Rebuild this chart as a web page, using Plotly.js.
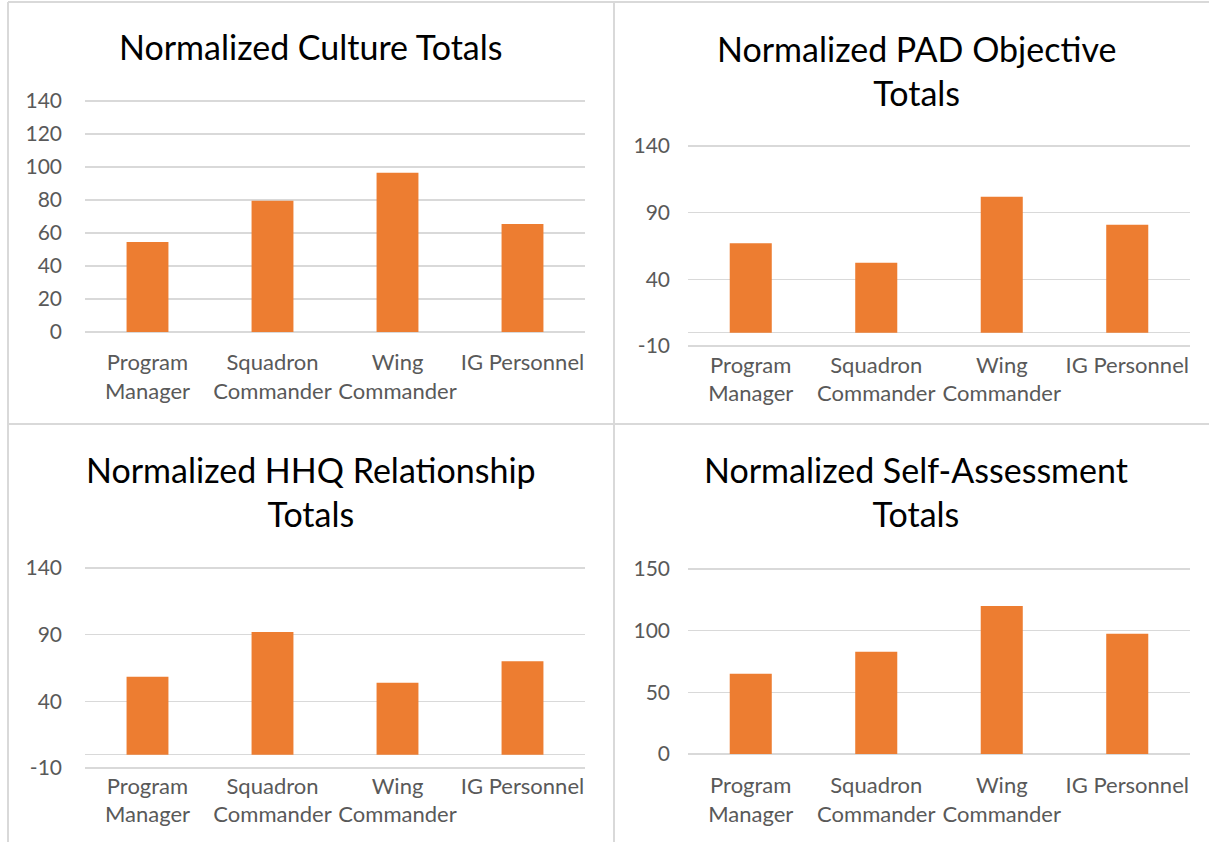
<!DOCTYPE html>
<html>
<head>
<meta charset="utf-8">
<script src="https://cdn.plot.ly/plotly-3.0.1.min.js"></script>
<style>
  html, body { margin: 0; padding: 0; background: #ffffff; }
  #chart { width: 1209px; height: 842px; }
</style>
</head>
<body>
<div id="chart"></div>
<script>
// ---- data ----
const categories = ['Program Manager', 'Squadron Commander', 'Wing Commander', 'IG Personnel'];
const tickLabels = ['Program<br>Manager', 'Squadron<br>Commander', 'Wing<br>Commander', 'IG Personnel'];
const cultureValues = [54.5, 79.5, 96.5, 65.5];
const padValues = [67, 52.5, 102, 81];
const hhqValues = [58.5, 92, 54, 70];
const selfValues = [65, 83, 120, 97.5];
const cultureTicks = [0, 20, 40, 60, 80, 100, 120, 140];
const padTicks = [-10, 40, 90, 140];
const hhqTicks = [-10, 40, 90, 140];
const selfTicks = [0, 50, 100, 150];
const chartTitles = [
  'Normalized Culture Totals',
  'Normalized PAD Objective<br>Totals',
  'Normalized HHQ Relationship<br>Totals',
  'Normalized Self-Assessment<br>Totals'
];

// ---- layout helpers ----
const W = 1209, H = 842;
const BAR = '#ED7D31';
const GRID = '#d9d9d9';
const TXT = '#595959';
const FONT = 'Lato, "Open Sans", sans-serif';

// map a value range onto a vertical pixel span defined by two known tick positions
function yDomain(pxTop, vTop, pxBot, vBot, lo, hi) {
  const k = (pxTop - pxBot) / (vTop - vBot);
  const p = v => pxBot + (v - vBot) * k;
  return [1 - p(lo) / H, 1 - p(hi) / H];
}
function xDomain(x0, x1) { return [x0 / W, x1 / W]; }

const panels = [
  { vals: cultureValues, ticks: cultureTicks, xd: xDomain(85, 585), yd: yDomain(101, 140, 332, 0, -2, 142), range: [-2, 142], standoff: 12, ystand: 22 },
  { vals: padValues, ticks: padTicks, xd: xDomain(688, 1190), yd: yDomain(146, 140, 346, -10, -12, 142), range: [-12, 142], standoff: 1, ystand: 17 },
  { vals: hhqValues, ticks: hhqTicks, xd: xDomain(85, 585), yd: yDomain(568, 140, 768, -10, -12, 142), range: [-12, 142], standoff: 0, ystand: 22 },
  { vals: selfValues, ticks: selfTicks, xd: xDomain(688, 1190), yd: yDomain(569, 150, 754, 0, -2, 152), range: [-2, 152], standoff: 14, ystand: 17 }
];
const titlePos = [
  { x: 311, y: 47 }, { x: 916, y: 70 }, { x: 311, y: 491 }, { x: 916, y: 491 }
];

const data = [];
const layout = {
  width: W, height: H,
  margin: { l: 0, r: 0, t: 0, b: 0 },
  paper_bgcolor: '#ffffff', plot_bgcolor: 'rgba(0,0,0,0)',
  showlegend: false,
  font: { family: FONT, color: TXT, size: 22 },
  bargap: 0.665,
  annotations: [],
  shapes: []
};

panels.forEach((p, i) => {
  const n = i === 0 ? '' : String(i + 1);
  data.push({
    type: 'bar', x: categories, y: p.vals,
    xaxis: 'x' + n, yaxis: 'y' + n,
    marker: { color: BAR, line: { width: 0 } },
    hoverinfo: 'x+y'
  });
  layout['xaxis' + n] = {
    domain: p.xd, anchor: 'y' + n,
    type: 'category',
    tickvals: categories, ticktext: tickLabels,
    showgrid: false, zeroline: false, showline: false,
    ticks: '', ticklabelstandoff: p.standoff,
    tickfont: { family: FONT, size: 22, color: TXT },
    fixedrange: true
  };
  layout['yaxis' + n] = {
    domain: p.yd, anchor: 'x' + n,
    range: p.range,
    tickmode: 'array', tickvals: p.ticks, ticktext: p.ticks.map(String),
    showgrid: true, gridcolor: GRID, gridwidth: 1.3,
    zeroline: true, zerolinecolor: GRID, zerolinewidth: 1.3,
    showline: false, ticks: '', ticklabelstandoff: p.ystand,
    tickfont: { family: FONT, size: 21, color: TXT },
    fixedrange: true
  };
  layout.annotations.push({
    xref: 'paper', yref: 'paper',
    x: titlePos[i].x / W, y: 1 - titlePos[i].y / H,
    xanchor: 'center', yanchor: 'middle',
    text: chartTitles[i], showarrow: false,
    font: { family: FONT, size: 34, color: '#000000' }
  });
});

// panel borders
const borders = [
  [8, 2, 1209, 2], [8, 2, 8, 842], [614, 2, 614, 842], [8, 424, 1209, 424]
];
borders.forEach(b => layout.shapes.push({
  type: 'line', xref: 'paper', yref: 'paper',
  x0: b[0] / W, y0: 1 - b[1] / H, x1: b[2] / W, y1: 1 - b[3] / H,
  line: { color: GRID, width: 2 }
}));

Plotly.newPlot('chart', data, layout, { staticPlot: true, displayModeBar: false });
</script>
</body>
</html>
